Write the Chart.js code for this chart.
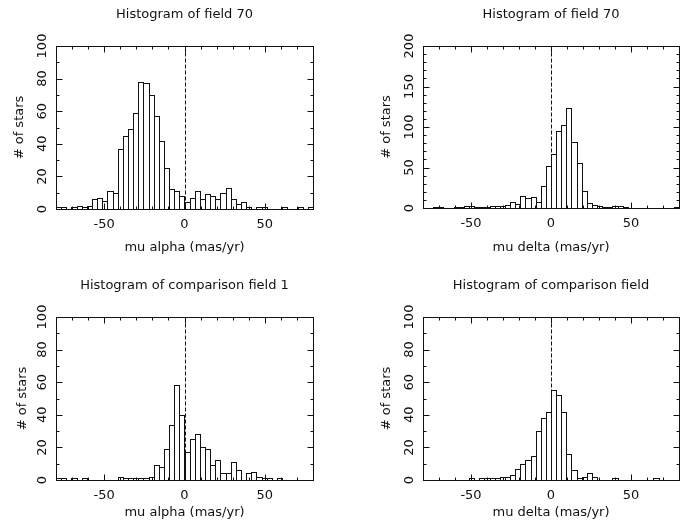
<!DOCTYPE html>
<html>
<head>
<meta charset="utf-8">
<script src="https://cdn.jsdelivr.net/npm/chart.js@4.4.1/dist/chart.umd.min.js"></script>
<style>
  body { margin: 0; background: #fff; }
  #wrap { position: relative; width: 688px; height: 529px; }
  canvas { position: absolute; }
</style>
</head>
<body>
<div id="wrap">
  <canvas id="c1" width="344" height="264" style="left:0;top:0"></canvas>
  <canvas id="c2" width="344" height="264" style="left:344px;top:0"></canvas>
  <canvas id="c3" width="344" height="265" style="left:0;top:264px"></canvas>
  <canvas id="c4" width="344" height="265" style="left:344px;top:264px"></canvas>
</div>
<script>
// bin centres (mas/yr), bins 3.2 wide from -80 to 80
const binCenters = [-78.4, -75.2, -72.0, -68.8, -65.6, -62.4, -59.2, -56.0, -52.8, -49.6,
    -46.4, -43.2, -40.0, -36.8, -33.6, -30.4, -27.2, -24.0, -20.8, -17.6,
    -14.4, -11.2, -8.0, -4.8, -1.6, 1.6, 4.8, 8.0, 11.2, 14.4,
    17.6, 20.8, 24.0, 27.2, 30.4, 33.6, 36.8, 40.0, 43.2, 46.4,
    49.6, 52.8, 56.0, 59.2, 62.4, 65.6, 68.8, 72.0, 75.2, 78.4];

// star counts per bin
const field70Alpha = [1, 1, 0, 1, 2, 1, 2, 6, 7, 5, 11, 10, 37, 45, 49, 59, 78, 77, 70, 57,
    42, 25, 12, 11, 8, 4, 7, 11, 6, 9, 8, 6, 10, 13, 6, 3, 4, 1, 0, 1,
    1, 0, 0, 0, 1, 0, 0, 1, 0, 1];
const field70Delta = [0, 0, 1, 1, 0, 0, 1, 1, 2, 2, 1, 1, 1, 2, 3, 2, 4, 7, 5, 15,
    12, 14, 8, 27, 52, 67, 95, 103, 123, 82, 55, 21, 6, 4, 2, 1, 1, 2, 2, 1,
    0, 0, 0, 0, 0, 0, 0, 0, 0, 1];
const compAlpha = [1, 1, 0, 1, 0, 1, 0, 0, 0, 0, 0, 0, 2, 1, 1, 1, 1, 1, 2, 9,
    8, 19, 34, 58, 40, 17, 25, 28, 20, 19, 9, 12, 4, 4, 11, 6, 0, 4, 5, 2,
    1, 1, 0, 1, 0, 0, 0, 0, 0, 0];
const compDelta = [0, 0, 0, 0, 0, 0, 0, 0, 0, 1, 0, 1, 1, 1, 1, 2, 2, 3, 7, 10,
    12, 15, 30, 38, 42, 55, 52, 42, 16, 6, 1, 2, 4, 2, 0, 0, 0, 1, 0, 0,
    0, 0, 0, 0, 0, 1, 0, 0, 0, 0];

// tick labels and tick marks
const xTickLabels = [-50, 0, 50];
const xMinorTicks = [-80, -70, -60, -50, -40, -30, -20, -10, 0, 10, 20, 30, 40, 50, 60, 70, 80];
const yTicks100 = [0, 20, 40, 60, 80, 100];
const yMinor100 = [0, 10, 20, 30, 40, 50, 60, 70, 80, 90, 100];
const yTicks200 = [0, 50, 100, 150, 200];
const yMinor200 = [0, 10, 20, 30, 40, 50, 60, 70, 80, 90, 100, 110, 120, 130, 140, 150, 160, 170, 180, 190, 200];

Chart.defaults.font.family = '"DejaVu Sans", sans-serif';
Chart.defaults.color = '#111';

//////////////////////////////frame, ticks, outlines//////////////////////////////
const histFrame = {
    id: 'histFrame',
    afterDatasetsDraw(chart, args, opts) {
        const ctx = chart.ctx;
        const area = chart.chartArea;
        const xs = chart.scales.x;
        const ys = chart.scales.y;
        const L = Math.round(area.left) + 0.5;
        const R = Math.round(area.right) + 0.5;
        const T = Math.round(area.top) + 0.5;
        const B = Math.round(area.bottom) + 0.5;

        ctx.save();
        ctx.strokeStyle = '#111';
        ctx.lineWidth = 1;

        // outline every bar so neighbours share one edge
        chart.getDatasetMeta(0).data.forEach(bar => {
            const p = bar.getProps(['x', 'y', 'base', 'width'], true);
            const l = Math.round(p.x - p.width / 2) + 0.5;
            const r = Math.round(p.x + p.width / 2) + 0.5;
            const t = Math.round(p.y) + 0.5;
            const b = Math.round(p.base) + 0.5;
            if (b - t < 1) return;
            ctx.strokeRect(l, t, r - l, b - t);
        });

        // dashed line at zero
        const zx = Math.round(xs.getPixelForValue(0)) + 0.5;
        ctx.setLineDash([4, 2]);
        ctx.beginPath();
        ctx.moveTo(zx, T);
        ctx.lineTo(zx, B);
        ctx.stroke();
        ctx.setLineDash([]);

        ctx.strokeRect(L, T, R - L, B - T);

        ctx.beginPath();
        xMinorTicks.forEach(v => {
            const px = Math.round(xs.getPixelForValue(v)) + 0.5;
            const len = xTickLabels.includes(v) ? 6 : 3;
            ctx.moveTo(px, B); ctx.lineTo(px, B - len);
            ctx.moveTo(px, T); ctx.lineTo(px, T + len);
        });
        opts.yMinor.forEach(v => {
            const py = Math.round(ys.getPixelForValue(v)) + 0.5;
            const len = opts.yMajor.includes(v) ? 6 : 3;
            ctx.moveTo(L, py); ctx.lineTo(L + len, py);
            ctx.moveTo(R, py); ctx.lineTo(R - len, py);
        });
        ctx.stroke();

        // rotated y tick labels
        ctx.fillStyle = '#111';
        ctx.font = '13px "DejaVu Sans", sans-serif';
        ctx.textAlign = 'center';
        ctx.textBaseline = 'middle';
        opts.yMajor.forEach(v => {
            ctx.save();
            ctx.translate(area.left - 13, ys.getPixelForValue(v));
            ctx.rotate(-Math.PI / 2);
            ctx.fillText(String(v), 0, 0);
            ctx.restore();
        });

        // panel title over the plot
        ctx.font = '13px "DejaVu Sans", sans-serif';
        ctx.fillText(opts.title, (area.left + area.right) / 2, area.top - 31);
        ctx.restore();
    }
};

const panels = [
    { id: 'c1', counts: field70Alpha, title: 'Histogram of field 70', xTitle: 'mu alpha (mas/yr)',
      yMax: 100, yMajor: yTicks100, yMinor: yMinor100, padTop: 46, padRight: 31, yWidth: 56, xHeight: 55, yTitlePad: 12 },
    { id: 'c2', counts: field70Delta, title: 'Histogram of field 70', xTitle: 'mu delta (mas/yr)',
      yMax: 200, yMajor: yTicks200, yMinor: yMinor200, padTop: 46, padRight: 9, yWidth: 79, xHeight: 56, yTitlePad: 35 },
    { id: 'c3', counts: compAlpha, title: 'Histogram of comparison field 1', xTitle: 'mu alpha (mas/yr)',
      yMax: 100, yMajor: yTicks100, yMinor: yMinor100, padTop: 53, padRight: 31, yWidth: 56, xHeight: 49, yTitlePad: 15 },
    { id: 'c4', counts: compDelta, title: 'Histogram of comparison field', xTitle: 'mu delta (mas/yr)',
      yMax: 100, yMajor: yTicks100, yMinor: yMinor100, padTop: 53, padRight: 9, yWidth: 79, xHeight: 49, yTitlePad: 35 }
];

function makeChart(p) {
    const points = binCenters.map((c, i) => ({ x: c, y: p.counts[i] }));
    return new Chart(document.getElementById(p.id), {
        type: 'bar',
        data: {
            datasets: [{
                data: points,
                backgroundColor: '#fff',
                borderWidth: 0,
                barPercentage: 1,
                categoryPercentage: 1
            }]
        },
        options: {
            responsive: false,
            animation: false,
            layout: { padding: { top: p.padTop, right: p.padRight, left: 0, bottom: 0 } },
            plugins: {
                legend: { display: false },
                tooltip: { enabled: false },
                histFrame: { title: p.title, yMajor: p.yMajor, yMinor: p.yMinor }
            },
            scales: {
                x: {
                    type: 'linear',
                    min: -80,
                    max: 80,
                    offset: false,
                    grid: { display: false },
                    border: { display: false },
                    ticks: {
                        stepSize: 10,
                        autoSkip: false,
                        maxRotation: 0,
                        padding: 0,
                        font: { size: 13 },
                        callback: v => xTickLabels.includes(v) ? String(v) : ''
                    },
                    title: { display: true, text: p.xTitle, font: { size: 13 }, padding: { top: 0, bottom: 9 } },
                    afterFit: s => { s.height = p.xHeight; }
                },
                y: {
                    min: 0,
                    max: p.yMax,
                    grid: { display: false },
                    border: { display: false },
                    ticks: { display: false },
                    title: { display: true, text: '# of stars', font: { size: 13 }, padding: { top: p.yTitlePad, bottom: 0 } },
                    afterFit: s => { s.width = p.yWidth; }
                }
            }
        },
        plugins: [histFrame]
    });
}

panels.forEach(makeChart);
</script>
</body>
</html>
